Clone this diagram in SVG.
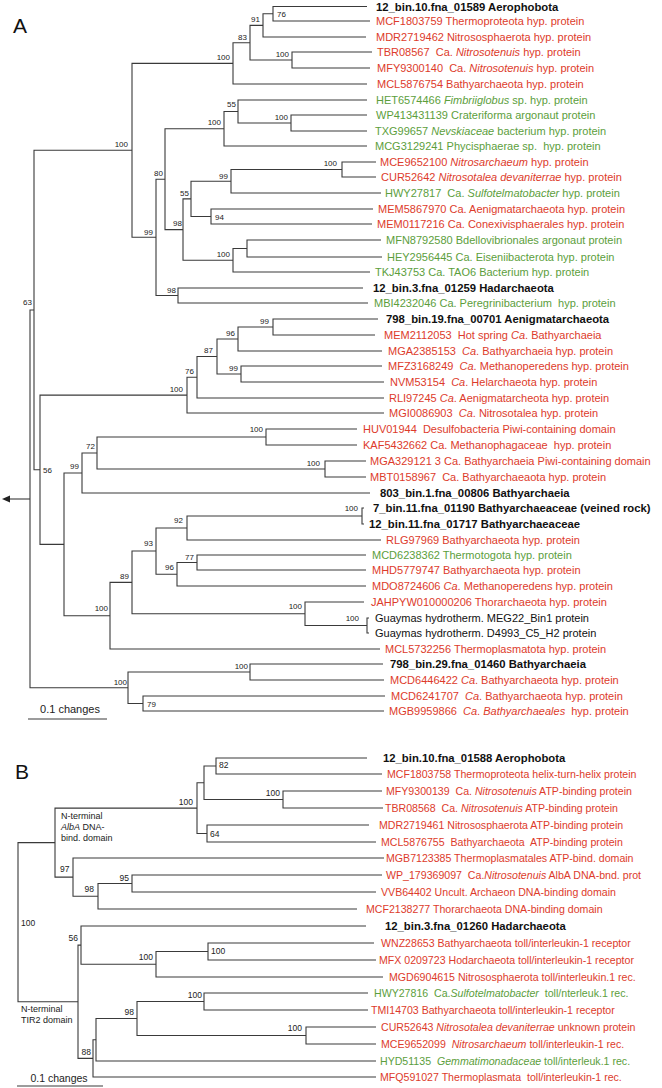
<svg xmlns="http://www.w3.org/2000/svg" width="662" height="1088" viewBox="0 0 662 1088">
<style>
.br{fill:none;stroke:#3a3a3a;stroke-width:1.1}
text{font-family:"Liberation Sans",Arial,sans-serif}
.r{fill:#dd3b2b;font-size:11px}
.g{fill:#5c9e3c;font-size:11px}
.k{fill:#111;font-size:11px}
.b{fill:#111;font-size:11.3px;font-weight:bold}
.rb{fill:#dd3b2b;font-size:10.6px}
.gb{fill:#5c9e3c;font-size:10.6px}
.bs{fill:#222;font-size:8px}
.bs2{fill:#222;font-size:8.5px}
.e{text-anchor:end}
.i{font-style:italic}
.pl{fill:#111;font-size:21px}
.ann{fill:#222;font-size:9px}
.sc{fill:#222;font-size:11px;text-anchor:middle}
</style>
<rect width="662" height="1088" fill="#fff"/>
<text class="pl" x="13" y="33">A</text>
<text class="pl" x="15" y="779">B</text>
<g id="connectors">
<!-- Panel A -->
<path class="br" d="M367 6.5H273V21H370"/>
<path class="br" d="M273 13.75H263V37H366"/>
<path class="br" d="M372 52H292V68H370"/>
<path class="br" d="M263 25.4H250V60H292"/>
<path class="br" d="M250 42.7H233V84H367"/>
<path class="br" d="M367 115H291V131H367"/>
<path class="br" d="M367 100H238V123H291"/>
<path class="br" d="M238 111.5H224V146H367"/>
<path class="br" d="M376 162H342V177H376"/>
<path class="br" d="M342 169.5H231V193H381"/>
<path class="br" d="M373 209H211V224H372"/>
<path class="br" d="M231 181.25H191V216.5H211"/>
<path class="br" d="M381 240H247V257H382"/>
<path class="br" d="M247 248.5H233V272H370"/>
<path class="br" d="M191 198.9H183V260.25H233"/>
<path class="br" d="M224 128.75H165V229.6H183"/>
<path class="br" d="M363 288H178V303H368"/>
<path class="br" d="M165 179.2H156V295.5H178"/>
<path class="br" d="M233 63.35H132V237.3H156"/>
<path class="br" d="M378 319H273V335H375"/>
<path class="br" d="M273 327H238V351H382"/>
<path class="br" d="M382 366H241V382H384"/>
<path class="br" d="M238 339H217V374H241"/>
<path class="br" d="M217 356.5H197V398H384"/>
<path class="br" d="M197 377.25H187V413H384"/>
<path class="br" d="M357 429H266V445H357"/>
<path class="br" d="M366 461H325V477H366"/>
<path class="br" d="M266 437H97V469H325"/>
<path class="br" d="M97 453H82V493H370"/>
<path class="br" d="M364 508H362V524H364"/>
<path class="br" d="M362 516H187V540H381"/>
<path class="br" d="M366 555H197V570H366"/>
<path class="br" d="M197 562.5H177V586H366"/>
<path class="br" d="M187 528H156V574.25H177"/>
<path class="br" d="M369 618H367V633H369"/>
<path class="br" d="M364 602H305V625.5H367"/>
<path class="br" d="M156 551H132V613.75H305"/>
<path class="br" d="M132 582.4H110V649H380"/>
<path class="br" d="M82 473H64V615.7H110"/>
<path class="br" d="M187 395.1H40V544.4H64"/>
<path class="br" d="M132 150.3H34V469.7H40"/>
<path class="br" d="M383 664H250V680H384"/>
<path class="br" d="M385 696H143V711H384"/>
<path class="br" d="M250 672H128V703.5H143"/>
<path class="br" d="M34 310H30V687.75H128"/>
<path class="br" d="M30 499H9"/>
<polygon points="2,499 10,495.5 10,502.5" fill="#222"/>
<path class="br" d="M28 719H107"/>
<!-- Panel B -->
<path class="br" d="M367 758H216V774H382"/>
<path class="br" d="M382 791H283V808H383"/>
<path class="br" d="M216 766H204V799.5H283"/>
<path class="br" d="M369 825H207V842H376"/>
<path class="br" d="M204 782.75H197V833.5H207"/>
<path class="br" d="M382 875H132V892H376"/>
<path class="br" d="M132 883.5H98V909H357"/>
<path class="br" d="M384 858H73V896.25H98"/>
<path class="br" d="M197 808.1H55V877.1H73"/>
<path class="br" d="M374 943H208V960H376"/>
<path class="br" d="M208 951.5H156V977H383"/>
<path class="br" d="M366 926H81V964.25H156"/>
<path class="br" d="M368 993H204V1010H368"/>
<path class="br" d="M376 1027H306V1044H376"/>
<path class="br" d="M204 1001.5H137V1035.5H306"/>
<path class="br" d="M137 1018.5H96V1061H376"/>
<path class="br" d="M96 1039.75H93V1077H376"/>
<path class="br" d="M81 945.1H78V1058.4H93"/>
<path class="br" d="M55 842.6H18V1001.75H78"/>
<path class="br" d="M17 1086H103"/>
</g>
<g id="bootstrap-A">
<text class="bs" x="277" y="17">76</text>
<text class="bs e" x="260" y="22">91</text>
<text class="bs e" x="247" y="40">83</text>
<text class="bs e" x="230" y="60">100</text>
<text class="bs e" x="289" y="57">100</text>
<text class="bs e" x="128" y="147">100</text>
<text class="bs e" x="236" y="107">55</text>
<text class="bs e" x="288" y="120">100</text>
<text class="bs e" x="221" y="125">100</text>
<text class="bs e" x="163" y="176">80</text>
<text class="bs e" x="228" y="179">99</text>
<text class="bs e" x="189" y="196">55</text>
<text class="bs e" x="337" y="166">100</text>
<text class="bs" x="215" y="220">94</text>
<text class="bs e" x="182" y="226">98</text>
<text class="bs e" x="153" y="235">99</text>
<text class="bs e" x="230" y="257">100</text>
<text class="bs e" x="176" y="293">98</text>
<text class="bs e" x="32" y="305">63</text>
<text class="bs e" x="269" y="324">99</text>
<text class="bs e" x="235" y="336">96</text>
<text class="bs e" x="213" y="353">87</text>
<text class="bs e" x="238" y="371">99</text>
<text class="bs e" x="194" y="374">76</text>
<text class="bs e" x="183" y="392">100</text>
<text class="bs e" x="263" y="432">100</text>
<text class="bs e" x="95" y="449">72</text>
<text class="bs e" x="79" y="469">99</text>
<text class="bs" x="43" y="473">56</text>
<text class="bs e" x="320" y="466">100</text>
<text class="bs e" x="183" y="523">92</text>
<text class="bs e" x="358" y="511">100</text>
<text class="bs e" x="153" y="546">93</text>
<text class="bs e" x="194" y="560">77</text>
<text class="bs e" x="174" y="570">96</text>
<text class="bs e" x="129" y="579">89</text>
<text class="bs e" x="302" y="609">100</text>
<text class="bs e" x="108" y="611">100</text>
<text class="bs e" x="359" y="621">100</text>
<text class="bs e" x="248" y="669">100</text>
<text class="bs e" x="127" y="685">100</text>
<text class="bs" x="147" y="707">79</text>
</g>
<g id="bootstrap-B">
<text class="bs2" x="219" y="768">82</text>
<text class="bs2 e" x="280" y="796">100</text>
<text class="bs2 e" x="193" y="805">100</text>
<text class="bs2" x="210" y="837">64</text>
<text class="bs2" x="60" y="872">97</text>
<text class="bs2 e" x="129" y="881">95</text>
<text class="bs2 e" x="94" y="892">98</text>
<text class="bs2" x="21" y="926">100</text>
<text class="bs2 e" x="78" y="941">56</text>
<text class="bs2" x="211" y="954">100</text>
<text class="bs2 e" x="153" y="960">100</text>
<text class="bs2 e" x="202" y="998">100</text>
<text class="bs2 e" x="134" y="1015">98</text>
<text class="bs2 e" x="302" y="1031">100</text>
<text class="bs2 e" x="91" y="1055">88</text>
</g>
<g id="annotations">
<text class="ann" x="61" y="819">N-terminal</text>
<text class="ann" x="61" y="830"><tspan class="i">AlbA</tspan> DNA-</text>
<text class="ann" x="61" y="841">bind. domain</text>
<text class="ann" x="21" y="1011.5">N-terminal</text>
<text class="ann" x="21" y="1023">TIR2 domain</text>
<text class="sc" x="70" y="713">0.1 changes</text>
<text class="sc" x="59" y="1082" style="font-size:10.5px">0.1 changes</text>
</g>
<g id="leaves-A">
<text class="b" x="376" y="10.5">12_bin.10.fna_01589 Aerophobota</text>
<text class="r" x="376" y="25">MCF1803759 Thermoproteota hyp. protein</text>
<text class="r" x="376" y="41">MDR2719462 Nitrososphaerota hyp. protein</text>
<text class="r" x="377" y="56">TBR08567&#160; Ca. <tspan class="i">Nitrosotenuis</tspan> hyp. protein</text>
<text class="r" x="377" y="72">MFY9300140&#160; Ca. <tspan class="i">Nitrosotenuis</tspan> hyp. protein</text>
<text class="r" x="377" y="88">MCL5876754 Bathyarchaeota hyp. protein</text>
<text class="g" x="376" y="104">HET6574466 <tspan class="i">Fimbriiglobus</tspan> sp. hyp. protein</text>
<text class="g" x="376" y="119">WP413431139 Crateriforma argonaut protein</text>
<text class="g" x="375" y="135">TXG99657 <tspan class="i">Nevskiaceae</tspan> bacterium hyp. protein</text>
<text class="g" x="375" y="150">MCG3129241 Phycisphaerae sp.&#160; hyp. protein</text>
<text class="r" x="380" y="166">MCE9652100 <tspan class="i">Nitrosarchaeum</tspan> hyp. protein</text>
<text class="r" x="381" y="181">CUR52642 <tspan class="i">Nitrosotalea devaniterrae</tspan> hyp. protein</text>
<text class="g" x="385" y="197">HWY27817&#160; Ca. <tspan class="i">Sulfotelmatobacter</tspan> hyp. protein</text>
<text class="r" x="378" y="213">MEM5867970 Ca. Aenigmatarchaeota hyp. protein</text>
<text class="r" x="377" y="228">MEM0117216 Ca. Conexivisphaerales hyp. protein</text>
<text class="g" x="386" y="244">MFN8792580 Bdellovibrionales argonaut protein</text>
<text class="g" x="387" y="261">HEY2956445 Ca. Eiseniibacterota hyp. protein</text>
<text class="g" x="375" y="276">TKJ43753 Ca. TAO6 Bacterium hyp. protein</text>
<text class="b" x="373" y="292">12_bin.3.fna_01259 Hadarchaeota</text>
<text class="g" x="374" y="307">MBI4232046 Ca. Peregrinibacterium&#160; hyp. protein</text>
<text class="b" x="386" y="323">798_bin.19.fna_00701 Aenigmatarchaeota</text>
<text class="r" x="384" y="339">MEM2112053&#160; Hot spring <tspan class="i">Ca</tspan>. Bathyarchaeia</text>
<text class="r" x="388" y="355">MGA2385153&#160; <tspan class="i">Ca</tspan>. Bathyarchaeia hyp. protein</text>
<text class="r" x="388" y="370">MFZ3168249&#160; <tspan class="i">Ca</tspan>. Methanoperedens hyp. protein</text>
<text class="r" x="390" y="386">NVM53154&#160; <tspan class="i">Ca</tspan>. Helarchaeota hyp. protein</text>
<text class="r" x="389" y="402">RLI97245 <tspan class="i">Ca</tspan>. Aenigmatarcheota hyp. protein</text>
<text class="r" x="389" y="417">MGI0086903&#160; <tspan class="i">Ca</tspan>. Nitrosotalea hyp. protein</text>
<text class="r" x="363" y="433">HUV01944&#160; Desulfobacteria Piwi-containing domain</text>
<text class="r" x="363" y="449">KAF5432662 Ca. Methanophagaceae&#160; hyp. protein</text>
<text class="r" x="370" y="465">MGA329121 3 Ca. Bathyarchaeia Piwi-containing domain</text>
<text class="r" x="370" y="481">MBT0158967&#160; Ca. Bathyarchaeaota hyp. protein</text>
<text class="b" x="380" y="497">803_bin.1.fna_00806 Bathyarchaeia</text>
<text class="b" x="373" y="512">7_bin.11.fna_01190 Bathyarchaeaceae (veined rock)</text>
<text class="b" x="369" y="528">12_bin.11.fna_01717 Bathyarchaeaceae</text>
<text class="r" x="386" y="544">RLG97969 Bathyarchaeota hyp. protein</text>
<text class="g" x="372" y="559">MCD6238362 Thermotogota hyp. protein</text>
<text class="r" x="372" y="574">MHD5779747 Bathyarchaeota hyp. protein</text>
<text class="r" x="372" y="590">MDO8724606 <tspan class="i">Ca</tspan>. Methanoperedens hyp. protein</text>
<text class="r" x="371" y="606">JAHPYW010000206 Thorarchaeota hyp. protein</text>
<text class="k" x="375" y="622">Guaymas hydrotherm. MEG22_Bin1 protein</text>
<text class="k" x="375" y="637">Guaymas hydrotherm. D4993_C5_H2 protein</text>
<text class="r" x="385" y="653">MCL5732256 Thermoplasmatota hyp. protein</text>
<text class="b" x="390" y="668">798_bin.29.fna_01460 Bathyarchaeia</text>
<text class="r" x="390" y="684">MCD6446422 <tspan class="i">Ca</tspan>. Bathyarchaeota hyp. protein</text>
<text class="r" x="391" y="700">MCD6241707&#160; <tspan class="i">Ca</tspan>. Bathyarchaeota hyp. protein</text>
<text class="r" x="389" y="715">MGB9959866&#160; <tspan class="i">Ca</tspan>. <tspan class="i">Bathyarchaeales</tspan>&#160; hyp. protein</text>
</g>
<g id="leaves-B">
<text class="b" x="383" y="762">12_bin.10.fna_01588 Aerophobota</text>
<text class="rb" x="387" y="778">MCF1803758 Thermoproteota helix-turn-helix protein</text>
<text class="rb" x="386" y="795">MFY9300139&#160; Ca. <tspan class="i">Nitrosotenuis</tspan> ATP-binding protein</text>
<text class="rb" x="385" y="812">TBR08568&#160; Ca. <tspan class="i">Nitrosotenuis</tspan> ATP-binding protein</text>
<text class="rb" x="379" y="829">MDR2719461 Nitrososphaerota ATP-binding protein</text>
<text class="rb" x="381" y="846">MCL5876755&#160; Bathyarchaeota&#160; ATP-binding protein</text>
<text class="rb" x="386" y="862">MGB7123385 Thermoplasmatales ATP-bind. domain</text>
<text class="rb" x="386" y="879">WP_179369097&#160; Ca.<tspan class="i">Nitrosotenuis</tspan> AlbA DNA-bnd. prot</text>
<text class="rb" x="381" y="896">VVB64402 Uncult. Archaeon DNA-binding domain</text>
<text class="rb" x="366" y="913">MCF2138277 Thorarchaeota DNA-binding domain</text>
<text class="b" x="385" y="930">12_bin.3.fna_01260 Hadarchaeota</text>
<text class="rb" x="381" y="947">WNZ28653 Bathyarchaeota toll/interleukin-1 receptor</text>
<text class="rb" x="379" y="964">MFX 0209723 Hodarchaeota toll/interleukin-1 receptor</text>
<text class="rb" x="389" y="981">MGD6904615 Nitrososphaerota toll/interleukin.1 rec.</text>
<text class="gb" x="374" y="997">HWY27816&#160; Ca.<tspan class="i">Sulfotelmatobacter</tspan>&#160; toll/nterleuk.1 rec.</text>
<text class="rb" x="371" y="1014">TMI14703 Bathyarchaeota toll/interleukin-1 receptor</text>
<text class="rb" x="381" y="1031">CUR52643 <tspan class="i">Nitrosotalea devaniterrae</tspan> unknown protein</text>
<text class="rb" x="381" y="1048">MCE9652099&#160; <tspan class="i">Nitrosarchaeum</tspan> toll/interleukin-1 rec.</text>
<text class="gb" x="380" y="1065">HYD51135&#160; <tspan class="i">Gemmatimonadaceae</tspan> toll/interleuk.1 rec.</text>
<text class="rb" x="380" y="1081">MFQ591027 Thermoplasmata&#160; toll/interleukin-1 rec.</text>
</g>
</svg>
